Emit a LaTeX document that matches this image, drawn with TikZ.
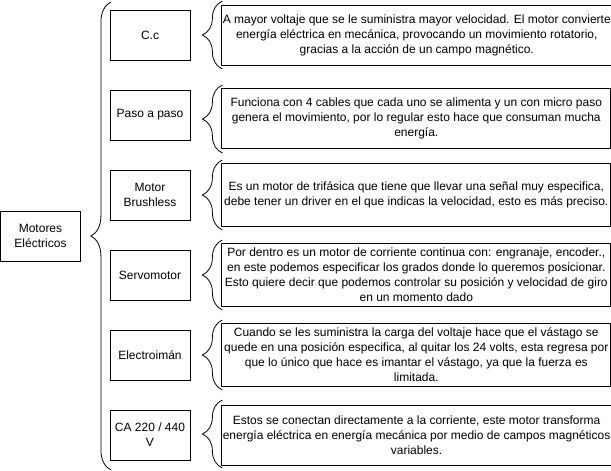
\documentclass[tikz,border=0pt]{standalone}
\usepackage{fontspec}
\setmainfont{Liberation Sans}
\usetikzlibrary{positioning,calc,decorations.pathreplacing}

\begin{document}
\begin{tikzpicture}[x=1pt,y=-1pt,
	font=\fontsize{12}{15}\selectfont,
	caja/.style={draw, line width=0.8pt, minimum width=80pt, minimum height=50pt, align=center, inner sep=1pt},
	desc/.style={draw, line width=0.8pt, minimum width=389pt, minimum height=60pt, align=center, inner sep=1pt},
	llave/.style={decorate, decoration={brace, amplitude=20pt}, line width=0.8pt}]

	\useasboundingbox (0,0) rectangle (611,471);

	\node[caja] (motores) at (40.5,236) {Motores\\Eléctricos};

	\node[caja] (cc) at (150,35) {C.c};
	\node[caja] (paso) at (150,115) {Paso a paso};
	\node[caja] (brushless) at (150,195) {Motor\\Brushless};
	\node[caja] (servo) at (150,275) {Servomotor};
	\node[caja] (electro) at (150,355) {Electroimán};
	\node[caja] (ca) at (150,435) {CA 220 / 440\\V};

	\node[desc, right=31pt of cc] (cc-d) {A mayor voltaje que se le suministra mayor velocidad. El motor convierte\\energía eléctrica en mecánica, provocando un movimiento rotatorio,\\gracias a la acción de un campo magnético.};
	\node[desc, right=31pt of paso, yshift=-3pt] (paso-d) {Funciona con 4 cables que cada uno se alimenta y un con micro paso\\genera el movimiento, por lo regular esto hace que consuman mucha\\energía.};
	\node[desc, right=31pt of brushless, minimum height=63pt] (brushless-d) {Es un motor de trifásica que tiene que llevar una señal muy especifica,\\debe tener un driver en el que indicas la velocidad, esto es más preciso.};
	\node[desc, right=31pt of servo, minimum height=63pt] (servo-d) {Por dentro es un motor de corriente continua con: engranaje, encoder.,\\en este podemos especificar los grados donde lo queremos posicionar.\\Esto quiere decir que podemos controlar su posición y velocidad de giro\\en un momento dado};
	\node[desc, right=31pt of electro, minimum height=63pt] (electro-d) {Cuando se les suministra la carga del voltaje hace que el vástago se\\quede en una posición especifica, al quitar los 24 volts, esta regresa por\\que lo único que hace es imantar el vástago, ya que la fuerza es\\limitada.};
	\node[desc, right=31pt of ca] (ca-d) {Estos se conectan directamente a la corriente, este motor transforma\\energía eléctrica en energía mecánica por medio de campos magnéticos\\variables.};

	% llave grande
	\coordinate (g-abajo) at ($(motores.east)+(30,234)$);
	\coordinate (g-arriba) at ($(motores.east)+(30,-234)$);
	\draw[llave] (g-abajo) -- (g-arriba);

	% llaves pequenas
	\draw[llave] ($(cc.east)+(32,34)$) -- ($(cc.east)+(32,-34)$);
	\draw[llave] ($(paso.east)+(32,38)$) -- ($(paso.east)+(32,-30)$);
	\draw[llave] ($(brushless.east)+(32,35)$) -- ($(brushless.east)+(32,-35)$);
	\draw[llave] ($(servo.east)+(32,35)$) -- ($(servo.east)+(32,-35)$);
	\draw[llave] ($(electro.east)+(32,35)$) -- ($(electro.east)+(32,-35)$);
	\draw[llave] ($(ca.east)+(32,33)$) -- ($(ca.east)+(32,-35)$);

\end{tikzpicture}
\end{document}
